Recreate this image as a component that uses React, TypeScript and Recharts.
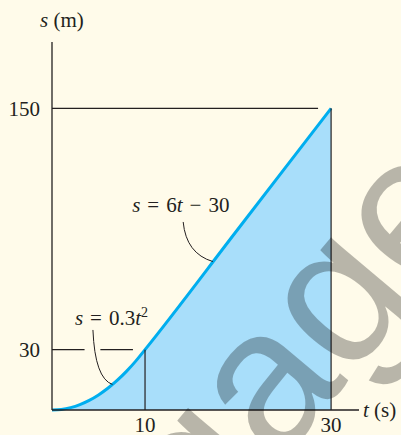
import React from 'react';
import { ComposedChart, Area, XAxis, YAxis, ReferenceLine } from 'recharts';

// s–t graph: s = 0.3t² up to t = 10 s, then s = 6t − 30 up to t = 30 s
const times = [0, 1, 2, 3, 4, 5, 6, 7, 8, 9, 10, 20, 30];
const positions = [0, 0.3, 1.2, 2.7, 4.8, 7.5, 10.8, 14.7, 19.2, 24.3, 30, 90, 150];
const tTicks = [10, 30];
const sTicks = [30, 150];

const data = times.map((t, i) => ({ t, s: positions[i] }));

const ink = '#231f20';
const paper = '#fffbea';
const serif = '"Liberation Serif", "Times New Roman", serif';

const Leader = (p: any) => {
  const { x1, y1, x2, y2, kind } = p;
  const d =
    kind === 'low'
      ? `M${x1},${y1} Q${x1 + 2},${y2 - 6} ${x2},${y2}`
      : `M${x1},${y1} Q${x1 + 3},${y2 - 8} ${x2},${y2}`;
  return (
    <g>
      <path d={d} stroke={ink} strokeWidth={1} fill="none" />
      {kind === 'low' ? (
        <text x={x1 - 18} y={y1 - 5} fontFamily={serif} fontSize={21} fill={ink}>
          <tspan fontStyle="italic">s</tspan>
          {'\u2004=\u20040.3'}
          <tspan fontStyle="italic">t</tspan>
          <tspan fontSize={14} dy={-8}>2</tspan>
        </text>
      ) : (
        <text x={x1 - 51} y={y1 - 10} fontFamily={serif} fontSize={21} fill={ink}>
          <tspan fontStyle="italic">s</tspan>
          {'\u2004=\u20046'}
          <tspan fontStyle="italic">t</tspan>
          {'\u2004\u2212\u200430'}
        </text>
      )}
    </g>
  );
};

export default function App() {
  return (
    <div style={{ position: 'absolute', left: 0, top: 0, width: 401, height: 435, background: paper, overflow: 'hidden' }}>
      <ComposedChart width={401} height={435} data={data} margin={{ top: 42, right: 42, bottom: 0, left: 0 }}>
        <XAxis
          dataKey="t"
          type="number"
          domain={[0, 33]}
          ticks={tTicks}
          tickLine={false}
          tickMargin={1}
          axisLine={{ stroke: ink, strokeWidth: 1.3 }}
          tick={{ fill: ink, fontSize: 21, fontFamily: serif }}
          height={25}
        />
        <YAxis
          type="number"
          domain={[0, 183]}
          ticks={sTicks}
          tickLine={false}
          tickMargin={6}
          axisLine={{ stroke: ink, strokeWidth: 1.3 }}
          tick={{ fill: ink, fontSize: 21, fontFamily: serif }}
          width={52}
        />
        <Area
          type="monotone"
          dataKey="s"
          stroke="#00aeef"
          strokeWidth={3}
          fill="#a8defa"
          fillOpacity={1}
          isAnimationActive={false}
        />
        <ReferenceLine segment={[{ x: 0, y: 150 }, { x: 28.6, y: 150 }]} stroke={ink} strokeWidth={1.2} />
        <ReferenceLine segment={[{ x: 0, y: 30 }, { x: 3.5, y: 30 }]} stroke={ink} strokeWidth={1.2} />
        <ReferenceLine segment={[{ x: 5.2, y: 30 }, { x: 8.7, y: 30 }]} stroke={ink} strokeWidth={1.2} />
        <ReferenceLine segment={[{ x: 10, y: 0 }, { x: 10, y: 30 }]} stroke={ink} strokeWidth={1.2} />
        <ReferenceLine segment={[{ x: 30, y: 0 }, { x: 30, y: 150 }]} stroke={ink} strokeWidth={1.2} />
        <ReferenceLine
          segment={[{ x: 4.4, y: 39.8 }, { x: 6.5, y: 12.7 }]}
          shape={(p: any) => <Leader {...p} kind="low" />}
        />
        <ReferenceLine
          segment={[{ x: 14.1, y: 93.5 }, { x: 17.3, y: 73.8 }]}
          shape={(p: any) => <Leader {...p} kind="high" />}
        />
      </ComposedChart>
      <svg width={401} height={435} style={{ position: 'absolute', left: 0, top: 0, pointerEvents: 'none' }}>
        <text x={40} y={27} fontFamily={serif} fontSize={21} fill={ink}>
          <tspan fontStyle="italic">s</tspan> (m)
        </text>
        <text x={363} y={417} fontFamily={serif} fontSize={21} fill={ink}>
          <tspan fontStyle="italic">t</tspan> (s)
        </text>
        {/* watermark */}
        <text
          transform="translate(-30,832) rotate(-50)"
          fontFamily='"Liberation Sans", Arial, sans-serif'
          fontSize={200}
          fill="#000"
          fillOpacity={0.28}
        >
          Cengage
        </text>
      </svg>
    </div>
  );
}
